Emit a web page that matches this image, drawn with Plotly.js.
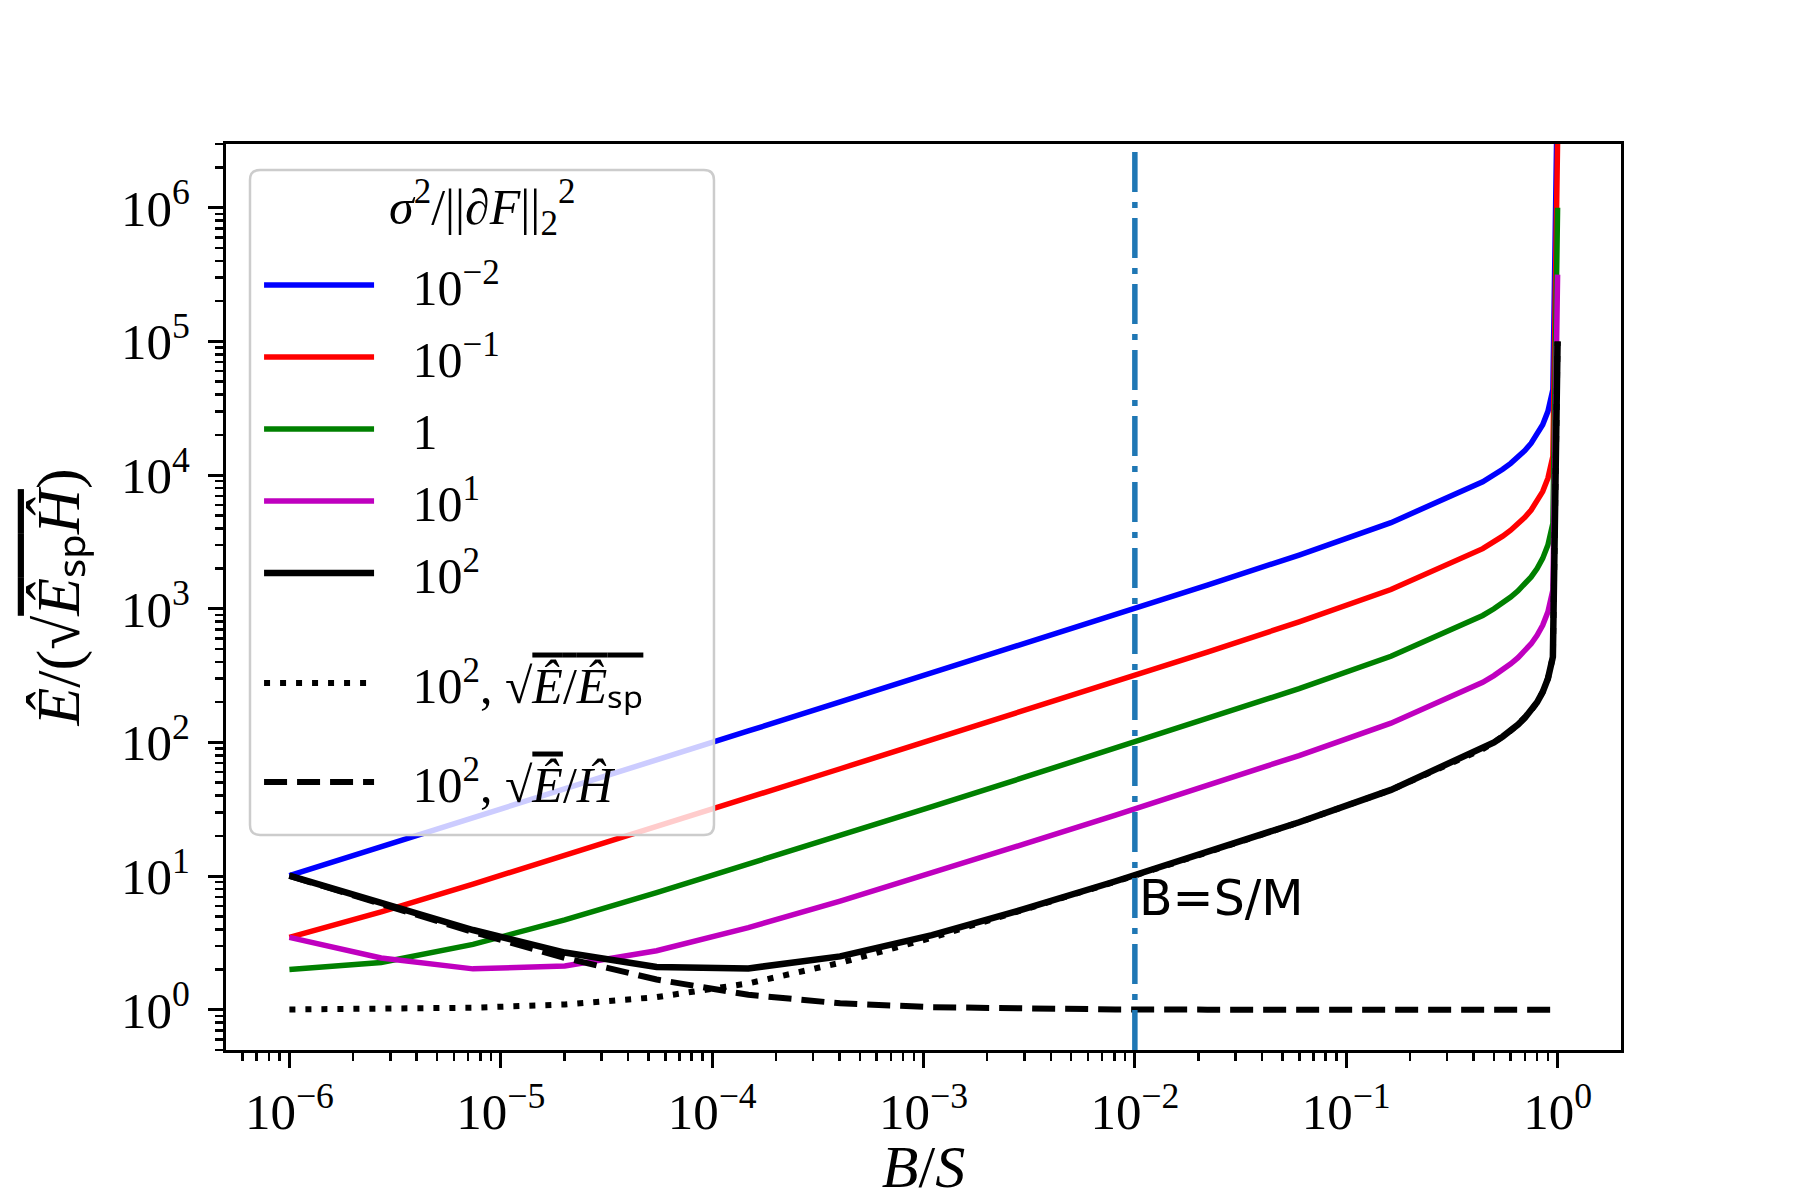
<!DOCTYPE html>
<html>
<head>
<meta charset="utf-8">
<script src="https://cdn.plot.ly/plotly-3.0.1.min.js"></script>
<style>body{margin:0;background:#fff}</style>
</head>
<body>
<div id="chart" style="width:1800px;height:1200px"></div>
<script>
// B/S sample points
var batchRatio = [1e-6, 2.718e-6, 7.389e-6, 2.009e-5, 5.460e-5, 1.484e-4, 4.034e-4, 1.097e-3, 2.981e-3, 8.103e-3,
  2.203e-2, 5.987e-2, 0.1628, 0.4424, 0.5, 0.55, 0.6, 0.65, 0.7, 0.75, 0.8, 0.85, 0.9, 0.95, 0.999999];

// E / sqrt(Esp H), one series per sigma^2/||dF||^2
var sig001 = [10.1, 16.55, 27.22, 44.84, 73.90, 121.8, 200.9, 331.3, 546.8, 903.8,
  1501, 2524, 4409, 8908, 10000, 11055, 12247, 13628, 15275, 17321, 20000, 23805, 30000, 43589, 1e7];
var sig01 = [3.479, 5.406, 8.712, 14.24, 23.41, 38.55, 63.55, 104.8, 172.9, 285.8,
  474.6, 798.1, 1394, 2817, 3162, 3496, 3873, 4310, 4831, 5477, 6325, 7528, 9487, 13784, 3.162e6];
var sig1 = [2.0, 2.255, 3.086, 4.705, 7.524, 12.27, 20.14, 33.16, 54.70, 90.40,
  150.1, 252.4, 440.9, 890.8, 1000, 1106, 1225, 1363, 1528, 1732, 2000, 2381, 3000, 4359, 1e6];
var sig10 = [3.479, 2.439, 2.023, 2.123, 2.765, 4.112, 6.510, 10.57, 17.35, 28.62,
  47.48, 79.82, 139.4, 281.7, 316.2, 349.6, 387.3, 431.0, 483.1, 547.7, 632.5, 752.8, 948.7, 1378, 3.162e5];
var sig100 = [10.1, 6.230, 3.951, 2.680, 2.092, 2.039, 2.507, 3.615, 5.651, 9.150,
  15.08, 25.28, 44.12, 89.09, 100.0, 110.6, 122.5, 136.3, 152.8, 173.2, 200.0, 238.1, 300.0, 435.9, 1e5];
// sigma^2 = 10^2 split into sqrt(E/Esp) and sqrt(E/H)
var sig100Esp = [1.005, 1.014, 1.036, 1.096, 1.243, 1.576, 2.244, 3.461, 5.559, 9.094,
  15.04, 25.26, 44.10, 89.08, 100.0, 110.6, 122.5, 136.3, 152.8, 173.2, 200.0, 238.0, 300.0, 435.9, 1e5];
var sig100H = [10.05, 6.147, 3.812, 2.445, 1.683, 1.294, 1.117, 1.045, 1.017, 1.006,
  1.002, 1.001, 1.0003, 1.0001, 1.0001, 1.0001, 1.0001, 1.0001, 1.0001, 1.0001, 1.0001, 1.0001, 1.0001, 1.0001, 1.0];

var pad = '\u00a0\u00a0\u2006';
var seriesNames = ['10<sup>−2</sup>', '10<sup>−1</sup>', '1', '10<sup>1</sup>', '10<sup>2</sup>',
  '10<sup>2</sup>, √<span style="text-decoration:overline"><i>Ê</i>/<i>Ê</i>ₛₚ</span>',
  '10<sup>2</sup>, √<span style="text-decoration:overline"><i>Ê</i></span>/<i>Ĥ</i>'];
var legendTitle = '<i>σ</i><sup>2</sup>/||∂<i>F</i>||<sub>2</sub><sup>2</sup>';

var smRatio = 0.01;        // B = S/M
var yLimits = [0.5, 3e6];

var xTickVals = [1e-6, 1e-5, 1e-4, 1e-3, 1e-2, 1e-1, 1];
var xTickText = ['10<sup>−6</sup>', '10<sup>−5</sup>', '10<sup>−4</sup>', '10<sup>−3</sup>',
  '10<sup>−2</sup>', '10<sup>−1</sup>', '10<sup>0</sup>'];
var yTickVals = [1, 10, 100, 1e3, 1e4, 1e5, 1e6];
var yTickText = ['10<sup>0</sup>', '10<sup>1</sup>', '10<sup>2</sup>', '10<sup>3</sup>',
  '10<sup>4</sup>', '10<sup>5</sup>', '10<sup>6</sup>'];

function line(y, i, color, width, dash, leg) {
  return {
    x: batchRatio, y: y, name: pad + seriesNames[i], mode: 'lines', type: 'scatter',
    legend: leg, legendgroup: 'g' + i,
    line: {color: color, width: width, dash: dash || 'solid'},
    hoverinfo: 'skip'
  };
}

var data = [
  line(sig001, 0, '#0000ff', 5.5, null, 'legend'),
  line(sig01, 1, '#ff0000', 5.5, null, 'legend'),
  line(sig1, 2, '#008000', 5.5, null, 'legend'),
  line(sig10, 3, '#bf00bf', 5.5, null, 'legend'),
  line(sig100, 4, '#000000', 6.5, null, 'legend'),
  line(sig100Esp, 5, '#000000', 6, '6px,10px', 'legend2'),
  line(sig100H, 6, '#000000', 6, '23px,10px', 'legend2'),
  {
    x: [smRatio, smRatio], y: yLimits, mode: 'lines', type: 'scatter', showlegend: false,
    line: {color: '#1f77b4', width: 5.5, dash: '40px,10px,6px,10px'}, hoverinfo: 'skip'
  }
];

var axisCommon = {
  type: 'log', showgrid: false, zeroline: false,
  showline: true, mirror: true, linecolor: '#000', linewidth: 3,
  ticks: 'outside', ticklen: 15, tickwidth: 3, tickcolor: '#000',
  tickmode: 'array', tickfont: {size: 51, family: 'Liberation Serif', color: '#000'},
  minor: {ticks: 'outside', ticklen: 8, tickwidth: 2.5, tickcolor: '#000', dtick: 'D1', showgrid: false}
};

// legend frame (paper coords of the plot area)
var bx0 = 0.0172, bx1 = 0.3498, by0 = 0.2373, by1 = 0.9713, rx = 0.0072, ry = 0.011;
var framePath = 'M' + (bx0 + rx) + ',' + by1 + ' L' + (bx1 - rx) + ',' + by1 +
  ' Q' + bx1 + ',' + by1 + ' ' + bx1 + ',' + (by1 - ry) + ' L' + bx1 + ',' + (by0 + ry) +
  ' Q' + bx1 + ',' + by0 + ' ' + (bx1 - rx) + ',' + by0 + ' L' + (bx0 + rx) + ',' + by0 +
  ' Q' + bx0 + ',' + by0 + ' ' + bx0 + ',' + (by0 + ry) + ' L' + bx0 + ',' + (by1 - ry) +
  ' Q' + bx0 + ',' + by1 + ' ' + (bx0 + rx) + ',' + by1 + ' Z';

var legendCommon = {
  xanchor: 'left', yanchor: 'top', bgcolor: 'rgba(0,0,0,0)', borderwidth: 0,
  font: {size: 50}, itemwidth: 110, traceorder: 'grouped'
};

var layout = {
  width: 1800, height: 1200,
  margin: {l: 226, r: 179, t: 144, b: 150},
  paper_bgcolor: '#fff', plot_bgcolor: '#fff',
  font: {family: 'Liberation Serif', color: '#000', size: 50},
  showlegend: true,
  legend: Object.assign({}, legendCommon, {x: 0.0237, y: 0.8874, tracegroupgap: 4}),
  legend2: Object.assign({}, legendCommon, {x: 0.0237, y: 0.4481, tracegroupgap: 31}),
  shapes: [{
    type: 'path', xref: 'paper', yref: 'paper', path: framePath, layer: 'above',
    fillcolor: 'rgba(255,255,255,0.8)', line: {color: '#cccccc', width: 2.5}
  }],
  xaxis: Object.assign({}, axisCommon, {
    range: [-6.3, 0.3], tickvals: xTickVals, ticktext: xTickText,
    title: {text: '<i>B</i>/<i>S</i>', font: {size: 60}, standoff: 21}
  }),
  yaxis: Object.assign({}, axisCommon, {
    range: [Math.log10(yLimits[0]), Math.log10(yLimits[1])], tickvals: yTickVals, ticktext: yTickText,
    ticklabelstandoff: 8,
    title: {text: '<i>Ê</i>/(√<span style="text-decoration:overline"><i>Ê</i>ₛₚ<i>Ĥ</i></span>)', font: {size: 62}, standoff: 22}
  }),
  annotations: [{
    x: (bx0 + bx1) / 2, y: 0.9294, xref: 'paper', yref: 'paper', text: legendTitle, showarrow: false,
    xanchor: 'center', yanchor: 'middle', font: {size: 50}
  }, {
    x: Math.log10(smRatio), y: 0.835, xref: 'x', yref: 'y', text: 'B=S/M', showarrow: false,
    xanchor: 'left', yanchor: 'middle', xshift: 2,
    font: {family: 'DejaVu Sans', size: 49, color: '#000'}
  }]
};

Plotly.newPlot('chart', data, layout, {staticPlot: true});
</script>
</body>
</html>
